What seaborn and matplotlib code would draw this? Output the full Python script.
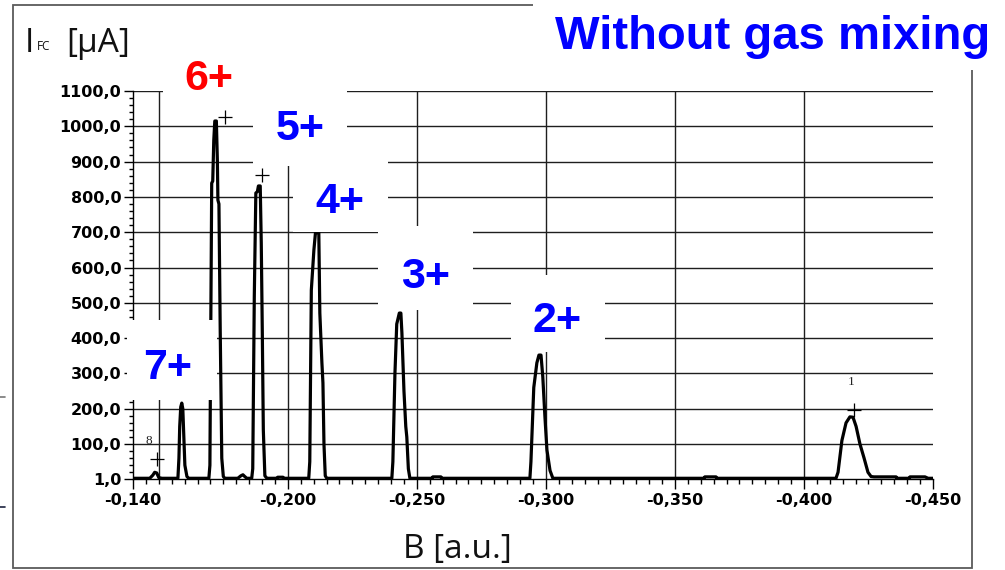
import matplotlib
matplotlib.use("Agg")
import matplotlib.pyplot as plt
import pandas as pd
import seaborn as sns
from matplotlib.patches import Rectangle
from matplotlib.lines import Line2D
from matplotlib.ticker import FixedLocator, FixedFormatter, MultipleLocator

# ---------------------------------------------------------------- data
# Faraday-cup current versus magnet field (charge-state spectrum)
field_b = [
    -0.1400, -0.1465, -0.1477, -0.1484, -0.1492, -0.1500, -0.1512,
    -0.1574, -0.1578, -0.1581, -0.1585, -0.1589, -0.1593, -0.1597, -0.1601, -0.1609, -0.1616,
    -0.1694, -0.1698, -0.1702, -0.1705, -0.1709, -0.1713, -0.1717, -0.1723, -0.1727, -0.1729,
    -0.1733, -0.1738, -0.1744, -0.1750, -0.1756,
    -0.1806, -0.1818, -0.1826, -0.1833, -0.1841,
    -0.1860, -0.1864, -0.1870, -0.1876, -0.1882, -0.1886, -0.1893, -0.1897, -0.1901, -0.1905,
    -0.1911, -0.1919,
    -0.1957, -0.1961, -0.1981, -0.1984,
    -0.2081, -0.2085, -0.2091, -0.2101, -0.2107, -0.2120, -0.2124, -0.2132, -0.2136, -0.2140,
    -0.2145, -0.2151,
    -0.2403, -0.2407, -0.2415, -0.2422, -0.2432, -0.2438, -0.2442, -0.2450, -0.2457, -0.2461,
    -0.2467, -0.2473,
    -0.2558, -0.2562, -0.2593, -0.2597,
    -0.2938, -0.2942, -0.2953, -0.2965, -0.2973, -0.2981, -0.2988, -0.2996, -0.3004, -0.3016,
    -0.3027,
    -0.3612, -0.3616, -0.3659, -0.3663,
    -0.4124, -0.4132, -0.4147, -0.4163, -0.4178, -0.4190, -0.4202, -0.4217, -0.4233, -0.4248,
    -0.4260, -0.4271, -0.4357, -0.4360, -0.4407, -0.4411, -0.4469, -0.4481, -0.4500,
]
current_ua = [
    3, 3, 12, 20, 18, 5, 3,
    3, 60, 150, 205, 216, 200, 120, 40, 8, 3,
    3, 40, 500, 839, 845, 960, 1015, 1015, 900, 791,
    780, 420, 60, 8, 3,
    3, 10, 13, 8, 3,
    3, 30, 517, 811, 815, 831, 831, 670, 420, 140,
    10, 3,
    3, 6, 6, 3,
    3, 50, 536, 650, 698, 698, 471, 330, 273, 100,
    10, 3,
    3, 50, 300, 440, 471, 471, 415, 250, 150, 120,
    30, 3,
    3, 7, 7, 3,
    3, 50, 260, 330, 352, 352, 290, 180, 83, 25,
    3,
    3, 7, 7, 3,
    3, 20, 110, 160, 177, 176, 150, 100, 60, 20,
    8, 7, 7, 3, 3, 7, 7, 3, 3,
]

# cursor marks placed on selected peaks
mark_b = [-0.1494, -0.1756, -0.1899, -0.4194]
mark_ua = [57, 1025, 863, 196]
tag_text = ["8", "1"]
tag_b = [-0.1463, -0.4182]
tag_ua = [110, 275]

# charge-state annotations
charge_labels = ["7+", "6+", "5+", "4+", "3+", "2+"]
charge_colors = ["#0000ff", "#ff0000", "#0000ff", "#0000ff", "#0000ff", "#0000ff"]

# axis ticks
x_ticks = [-0.140, -0.200, -0.250, -0.300, -0.350, -0.400, -0.450]
x_tick_labels = ["-0,140", "-0,200", "-0,250", "-0,300", "-0,350", "-0,400", "-0,450"]
x_grid = [-0.150, -0.200, -0.250, -0.300, -0.350, -0.400]
y_ticks = [1, 100, 200, 300, 400, 500, 600, 700, 800, 900, 1000, 1100]
y_tick_labels = ["1,0", "100,0", "200,0", "300,0", "400,0", "500,0", "600,0",
                 "700,0", "800,0", "900,0", "1000,0", "1100,0"]
y_grid = [100, 200, 300, 400, 500, 600, 700, 800, 900, 1000, 1100]

# ---------------------------------------------------------------- style
sns.set_theme(style="ticks")
plt.rcParams["font.family"] = ["DejaVu Sans"]

W, H = 1005, 570


def fx(px):
    return px / W


def fy(py):
    return 1 - py / H


fig = plt.figure(figsize=(W / 100, H / 100), dpi=100)
fig.patch.set_facecolor("white")
ax = fig.add_axes([fx(133), fy(479), fx(933) - fx(133), fy(91) - fy(479)])
ax.set_facecolor("white")

spectrum = pd.DataFrame({"B": field_b, "I": current_ua})

# grid
ax.vlines(x_grid, 1, 1100, color="#1e1e1e", lw=1.0, zorder=1)
ax.hlines(y_grid, -0.140, -0.450, color="#1e1e1e", lw=1.0, zorder=1)

# trace
sns.lineplot(data=spectrum, x="B", y="I", sort=False, estimator=None,
             color="black", lw=2.3, ax=ax, zorder=3)

# cursor marks
sns.scatterplot(x=mark_b, y=mark_ua, marker="+", s=110, color="black",
                linewidth=0.9, ax=ax, zorder=4)
for t, b, v in zip(tag_text, tag_b, tag_ua):
    ax.text(b, v, t, ha="center", va="center", fontsize=9.5,
            family="Liberation Serif", color="#222222", zorder=4)

ax.set_xlim(-0.140, -0.450)
ax.set_ylim(1, 1100)

ax.xaxis.set_major_locator(FixedLocator(x_ticks))
ax.xaxis.set_major_formatter(FixedFormatter(x_tick_labels))
ax.xaxis.set_minor_locator(MultipleLocator(0.005))
ax.yaxis.set_major_locator(FixedLocator(y_ticks))
ax.yaxis.set_major_formatter(FixedFormatter(y_tick_labels))
ax.yaxis.set_minor_locator(MultipleLocator(20))

ax.tick_params(axis="x", which="major", length=7, width=1, pad=3,
               labelsize=11.5, colors="black", direction="out")
ax.tick_params(axis="x", which="minor", length=3.5, width=1, direction="out", colors="black")
ax.tick_params(axis="y", which="major", length=6.5, width=1, pad=2,
               labelsize=11.5, colors="black", direction="out")
ax.tick_params(axis="y", which="minor", length=3, width=1, direction="out", colors="black")
for lab in ax.get_xticklabels() + ax.get_yticklabels():
    lab.set_fontweight("bold")
    lab.set_family("DejaVu Sans")

for side in ["top", "right"]:
    ax.spines[side].set_visible(False)
for side in ["left", "bottom"]:
    ax.spines[side].set_color("black")
    ax.spines[side].set_linewidth(1.0)
ax.set_xlabel("")
ax.set_ylabel("")

# outer frame of the panel
fig.add_artist(Rectangle((fx(13), fy(568)), fx(972) - fx(13), fy(5) - fy(568),
                         transform=fig.transFigure, fill=False,
                         edgecolor="#5a5a5a", lw=1.3, zorder=1))
fig.add_artist(Line2D([fx(0), fx(5)], [fy(397), fy(397)], transform=fig.transFigure,
                      color="#777777", lw=1.2, zorder=1))
fig.add_artist(Line2D([fx(0), fx(5)], [fy(507), fy(507)], transform=fig.transFigure,
                      color="#1c2340", lw=1.2, zorder=1))

# white label boxes laid over the plot
label_boxes = [
    (127, 320, 217, 400),   # 7+
    (163, 45, 258, 108),    # 6+
    (253, 85, 347, 166),    # 5+
    (293, 150, 388, 232),   # 4+
    (378, 226, 473, 310),   # 3+
    (511, 275, 605, 352),   # 2+
]
label_pos = [(168, 379), (209, 90), (300, 140), (340, 213), (426, 288), (557, 332)]
for (x0, y0, x1, y1), (cx, by), lab, col in zip(label_boxes, label_pos,
                                                 charge_labels, charge_colors):
    fig.add_artist(Rectangle((fx(x0), fy(y1)), fx(x1) - fx(x0), fy(y0) - fy(y1),
                             transform=fig.transFigure, facecolor="white",
                             edgecolor="none", zorder=5))
    fig.text(fx(cx), fy(by), lab, ha="center", va="baseline", fontsize=31,
             fontweight="bold", family="Liberation Sans", color=col, zorder=6)

# heading
fig.add_artist(Rectangle((fx(533), fy(70)), fx(1005) - fx(533), fy(0) - fy(70),
                         transform=fig.transFigure, facecolor="white",
                         edgecolor="none", zorder=5))
fig.text(fx(773), fy(49), "Without gas mixing", ha="center", va="baseline",
         fontsize=34, fontweight="bold", family="Liberation Sans",
         color="#0000ff", zorder=6)

# axis titles
fig.text(fx(25), fy(52), "I", ha="left", va="baseline", fontsize=24,
         family="Open Sans", color="#111111", zorder=6)
fig.text(fx(37), fy(50), "FC", ha="left", va="baseline", fontsize=8.5,
         family="Open Sans", color="#111111", zorder=6)
fig.text(fx(66), fy(52), "[μA]", ha="left", va="baseline", fontsize=24,
         family="Open Sans", color="#111111", zorder=6)
fig.text(fx(457), fy(558), "B [a.u.]", ha="center", va="baseline", fontsize=24,
         family="Open Sans", color="#111111", zorder=6)

fig.savefig("out.png", dpi=100, facecolor="white")
